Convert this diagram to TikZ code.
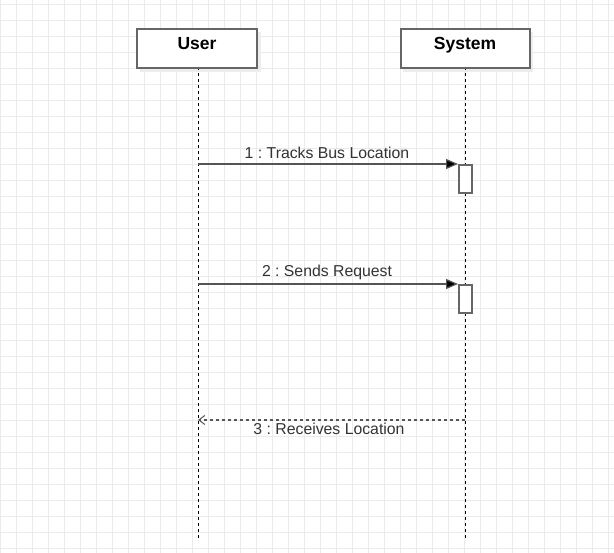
\documentclass[tikz,border=0pt]{standalone}
\usepackage{fontspec}
\setmainfont{Liberation Sans}
\usetikzlibrary{arrows.meta}
\frenchspacing
\definecolor{gridc}{HTML}{EBEBEB}
\definecolor{boxc}{HTML}{666666}
\definecolor{linec}{HTML}{555555}
\definecolor{txtc}{HTML}{333333}
\tikzset{
  headbox/.style={draw=boxc, line width=2pt, fill=white, minimum width=120pt, minimum height=39pt, inner sep=0pt, font=\fontsize{17.5}{20}\selectfont\bfseries, text=black},
  shadowbox/.style={fill=black!7, draw=none},
  lifeline/.style={draw=black, line width=1pt, dash pattern=on 3pt off 3pt},
  actbox/.style={draw=boxc, line width=2pt, fill=white, minimum width=13pt, minimum height=28pt, inner sep=0pt},
  msg/.style={draw=linec, line width=1.2pt, -{Triangle[length=12pt,width=10pt,fill=black]}},
  reply/.style={draw=linec, line width=1.2pt, dash pattern=on 3pt off 3pt, -{Straight Barb[length=6pt,width=9pt,line width=1pt]}},
  msglabel/.style={font=\fontsize{15.8}{18}\selectfont, text=txtc, inner sep=0pt}
}
\begin{document}
\begin{tikzpicture}[x=1pt,y=-1pt]
\useasboundingbox (0,0) rectangle (614,553);
\fill[white] (0,0) rectangle (614,553);
% grid
\foreach \i in {0,...,38} { \draw[gridc, line width=1pt] (16*\i,0) -- (16*\i,553); }
\foreach \j in {0,...,34} { \draw[gridc, line width=1pt] (0,4.3+16*\j) -- (614,4.3+16*\j); }
% shadows
\fill[shadowbox] (140,32) rectangle (261,72);
\fill[shadowbox] (403,32) rectangle (533,72);
% lifelines
\coordinate (uend) at (198,538);
\coordinate (send) at (465,538);
\draw[lifeline] (198,67) -- (uend);
\draw[lifeline] (465,67) -- (send);
% heads
\node[headbox, minimum width=120pt, anchor=north west] (user) at (136,28) {\raisebox{11pt}{User}};
\node[headbox, minimum width=129pt, anchor=north west] (system) at (399.5,28) {\raisebox{11pt}{System}};
% activations
\node[actbox, anchor=north west] (act1) at (458,164) {};
\node[actbox, anchor=north west] (act2) at (458,284) {};
% message anchor points
\coordinate (u1) at (198,164);
\coordinate (u2) at (198,284);
\coordinate (u3) at (198,420);
\coordinate (s3) at (465,420);
\draw[msg] (u1) -- (act1.north west);
\draw[msg] (u2) -- (act2.north west);
\draw[reply] (s3) -- (u3);
% labels
\node[msglabel] (l1) at (327,152.5) {1 : Tracks Bus Location};
\node[msglabel] (l2) at (327,272.5) {2 : Sends Request};
\node[msglabel] (l3) at (329,428.5) {3 : Receives Location};
\end{tikzpicture}
\end{document}
